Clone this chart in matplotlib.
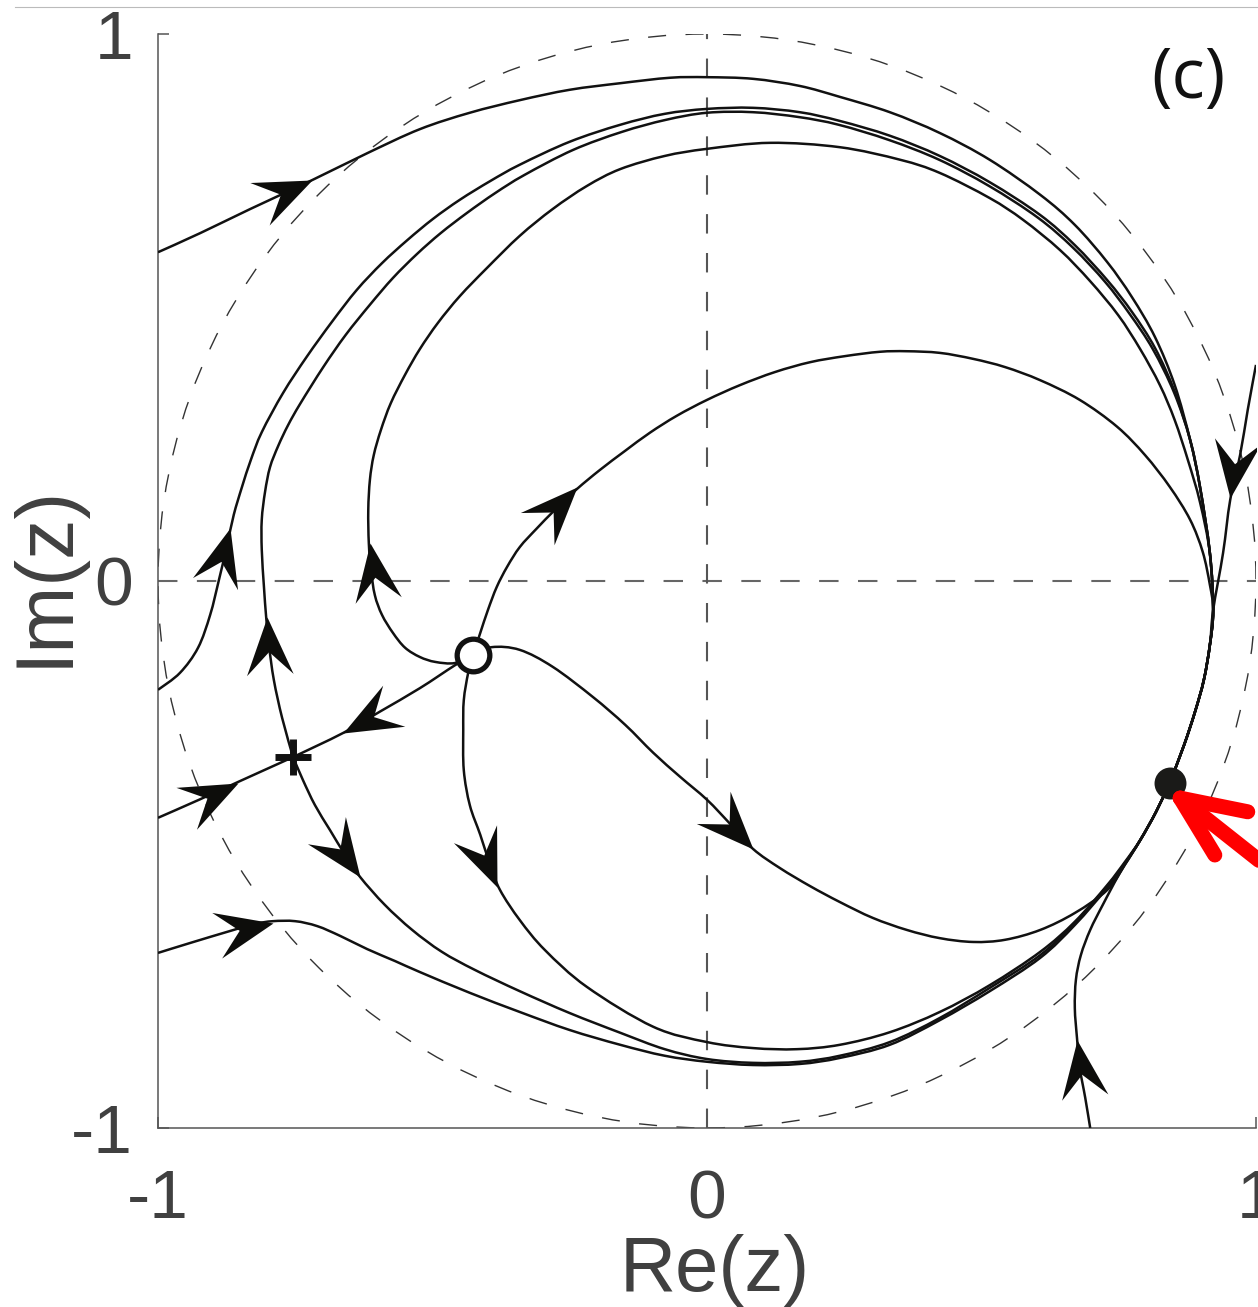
import numpy as np
import matplotlib
matplotlib.use("Agg")
import matplotlib.pyplot as plt
from matplotlib.path import Path
from matplotlib.markers import MarkerStyle
from matplotlib.transforms import Affine2D
from matplotlib.lines import Line2D
from matplotlib.patches import Circle, PathPatch

plt.rcParams['font.family'] = ['Liberation Sans', 'DejaVu Sans']
plt.rcParams['axes.unicode_minus'] = False
plt.rcParams['lines.scale_dashes'] = False

# fixed points of the flow in the unit disc
source = (-0.426, -0.135)
saddle = (-0.754, -0.322)
sink = (0.843, -0.369)

# common ends of the orbits that run into the sink
tail_top = [(0.922, -0.053), (0.916, -0.117), (0.905, -0.181), (0.889, -0.239),
            (0.869, -0.300), sink]
tail_bottom = [(0.789, -0.474), (0.818, -0.422), sink]

orbit_outer = [(-1.000, 0.601), (-0.923, 0.636), (-0.832, 0.680), (-0.719, 0.733),
               (-0.619, 0.782), (-0.523, 0.826), (-0.432, 0.856), (-0.341, 0.879),
               (-0.250, 0.898), (-0.158, 0.910), (-0.067, 0.920), (0.000, 0.921),
               (0.084, 0.918), (0.169, 0.905), (0.242, 0.885), (0.333, 0.857),
               (0.424, 0.819), (0.515, 0.770), (0.607, 0.706), (0.670, 0.651),
               (0.729, 0.583), (0.774, 0.519), (0.816, 0.446), (0.852, 0.358),
               (0.880, 0.258), (0.898, 0.172), (0.916, 0.051)] + tail_top

orbit_left_up = [(-1.000, -0.199), (-0.960, -0.168), (-0.927, -0.122), (-0.905, -0.062),
                 (-0.889, 0.002), (-0.874, 0.066), (-0.862, 0.121), (-0.847, 0.172),
                 (-0.831, 0.221), (-0.811, 0.272), (-0.772, 0.344), (-0.729, 0.410),
                 (-0.683, 0.474), (-0.638, 0.532), (-0.592, 0.581), (-0.546, 0.623),
                 (-0.499, 0.662), (-0.450, 0.697), (-0.395, 0.731), (-0.341, 0.761),
                 (-0.250, 0.803), (-0.158, 0.834), (-0.077, 0.854), (0.000, 0.863),
                 (0.084, 0.865), (0.169, 0.857), (0.242, 0.841), (0.333, 0.814),
                 (0.424, 0.777), (0.515, 0.729), (0.607, 0.669), (0.670, 0.614),
                 (0.729, 0.550), (0.774, 0.492), (0.816, 0.426), (0.852, 0.346),
                 (0.880, 0.258), (0.898, 0.172), (0.916, 0.051)] + tail_top

saddle_up = [saddle, (-0.774, -0.250), (-0.789, -0.181), (-0.798, -0.117), (-0.803, -0.066),
             (-0.807, -0.011), (-0.811, 0.057), (-0.811, 0.112), (-0.805, 0.163),
             (-0.796, 0.208), (-0.781, 0.247), (-0.763, 0.285), (-0.741, 0.324),
             (-0.699, 0.391), (-0.658, 0.450), (-0.614, 0.505), (-0.572, 0.554),
             (-0.528, 0.598), (-0.485, 0.636), (-0.437, 0.673), (-0.386, 0.709),
             (-0.333, 0.742), (-0.244, 0.788), (-0.155, 0.821), (-0.075, 0.843),
             (0.000, 0.856), (0.084, 0.857), (0.168, 0.848), (0.240, 0.834),
             (0.332, 0.806), (0.423, 0.770), (0.514, 0.722), (0.603, 0.664),
             (0.667, 0.609), (0.725, 0.547), (0.770, 0.488), (0.812, 0.424),
             (0.851, 0.344), (0.880, 0.258), (0.898, 0.172), (0.916, 0.051)] + tail_top

source_left_up = [source, (-0.459, -0.150), (-0.495, -0.148), (-0.523, -0.139), (-0.550, -0.122),
                  (-0.572, -0.095), (-0.592, -0.062), (-0.605, -0.026), (-0.612, 0.020),
                  (-0.616, 0.069), (-0.617, 0.130), (-0.614, 0.185), (-0.607, 0.230),
                  (-0.594, 0.276), (-0.576, 0.325), (-0.550, 0.377), (-0.523, 0.424),
                  (-0.490, 0.472), (-0.450, 0.521), (-0.401, 0.572), (-0.341, 0.631),
                  (-0.281, 0.680), (-0.219, 0.722), (-0.158, 0.753), (-0.077, 0.777),
                  (0.000, 0.790), (0.115, 0.801), (0.242, 0.793), (0.352, 0.770),
                  (0.424, 0.746), (0.515, 0.700), (0.576, 0.660), (0.643, 0.605),
                  (0.698, 0.548), (0.749, 0.486), (0.789, 0.424), (0.825, 0.358),
                  (0.852, 0.294), (0.876, 0.221), (0.898, 0.144), (0.916, 0.051)] + tail_top

source_up_right = [source, (-0.413, -0.095), (-0.399, -0.053), (-0.383, -0.011), (-0.364, 0.026),
                   (-0.341, 0.062), (-0.311, 0.095), (-0.277, 0.130), (-0.237, 0.168),
                   (-0.195, 0.203), (-0.149, 0.238), (-0.104, 0.271), (-0.055, 0.302),
                   (0.000, 0.331), (0.060, 0.358), (0.124, 0.382), (0.188, 0.400),
                   (0.251, 0.411), (0.315, 0.419), (0.364, 0.420), (0.424, 0.417),
                   (0.485, 0.406), (0.543, 0.391), (0.607, 0.367), (0.679, 0.331),
                   (0.747, 0.282), (0.798, 0.230), (0.843, 0.172), (0.880, 0.112),
                   (0.903, 0.053), (0.916, -0.007)] + tail_top

right_edge_down = [(1.000, 0.395), (0.985, 0.313), (0.971, 0.230), (0.953, 0.148),
                   (0.940, 0.051)] + tail_top

source_right_down = [source, (-0.392, -0.121), (-0.341, -0.126), (-0.281, -0.157), (-0.208, -0.212),
                     (-0.149, -0.263), (-0.098, -0.314), (-0.049, -0.358), (0.000, -0.400),
                     (0.042, -0.444), (0.084, -0.490), (0.133, -0.525), (0.188, -0.558),
                     (0.242, -0.587), (0.302, -0.616), (0.364, -0.638), (0.424, -0.653),
                     (0.485, -0.660), (0.543, -0.656), (0.607, -0.638), (0.670, -0.607),
                     (0.729, -0.565), (0.761, -0.519)] + tail_bottom

source_down = [source, (-0.435, -0.168), (-0.443, -0.218), (-0.444, -0.272), (-0.443, -0.346),
               (-0.432, -0.410), (-0.413, -0.464), (-0.395, -0.519), (-0.377, -0.565),
               (-0.341, -0.620), (-0.295, -0.675), (-0.219, -0.742), (-0.098, -0.815),
               (0.000, -0.843), (0.084, -0.854), (0.164, -0.856), (0.242, -0.848),
               (0.333, -0.825), (0.424, -0.788), (0.515, -0.739), (0.607, -0.678),
               (0.670, -0.623), (0.729, -0.556), (0.761, -0.514)] + tail_bottom

saddle_down = [saddle, (-0.736, -0.364), (-0.714, -0.410), (-0.687, -0.455), (-0.659, -0.501),
               (-0.632, -0.541), (-0.587, -0.592), (-0.537, -0.638), (-0.483, -0.678),
               (-0.423, -0.711), (-0.341, -0.750), (-0.250, -0.790), (-0.158, -0.826),
               (-0.077, -0.856), (0.000, -0.874), (0.084, -0.881), (0.169, -0.879),
               (0.242, -0.868), (0.333, -0.843), (0.424, -0.799), (0.515, -0.744),
               (0.607, -0.684), (0.670, -0.625), (0.729, -0.558), (0.761, -0.516)] + tail_bottom

left_edge_low = [(-1.000, -0.680), (-0.942, -0.662), (-0.869, -0.640), (-0.823, -0.627),
                 (-0.791, -0.622), (-0.750, -0.622), (-0.710, -0.631), (-0.668, -0.649),
                 (-0.619, -0.673), (-0.568, -0.695), (-0.523, -0.715), (-0.432, -0.753),
                 (-0.341, -0.788), (-0.250, -0.821), (-0.158, -0.848), (-0.077, -0.868),
                 (0.000, -0.879), (0.084, -0.885), (0.169, -0.883), (0.242, -0.872),
                 (0.333, -0.848), (0.424, -0.803), (0.515, -0.750), (0.607, -0.689),
                 (0.670, -0.629), (0.729, -0.561), (0.761, -0.517)] + tail_bottom

bottom_edge_up = [(0.698, -1.000), (0.689, -0.945), (0.679, -0.890), (0.674, -0.836),
                  (0.670, -0.781), (0.672, -0.729), (0.681, -0.684), (0.698, -0.638),
                  (0.721, -0.592), (0.752, -0.534)] + tail_bottom

stable_from_left = [(-1.000, -0.433), (-0.923, -0.399), (-0.851, -0.366), saddle]
stable_from_source = [source, (-0.459, -0.154), (-0.523, -0.196), (-0.596, -0.239),
                      (-0.663, -0.278), saddle]

orbits = [orbit_outer, orbit_left_up, saddle_up, source_left_up, source_up_right,
          right_edge_down, source_right_down, source_down, saddle_down, left_edge_low,
          bottom_edge_up, stable_from_left, stable_from_source]

# arrowheads: tip position and direction of flow
arrows = [(-0.719, 0.733, 55, 25), (-0.869, 0.097, 15, 56), (-0.801, -0.066, -3, 61),
          (-0.614, 0.069, -8, 56), (-0.854, -0.369, 53, 26), (-0.663, -0.278, -50, -27),
          (-0.632, -0.541, 20, -28), (-0.237, 0.172, 40, 42), (0.084, -0.490, 40, -42),
          (-0.383, -0.559, 14, -34), (-0.791, -0.625, 55, 12), (0.953, 0.152, -7, -53),
          (0.674, -0.839, -8, 59)]

# red pointer to the sink
pointer_tip = (0.862, -0.397)
pointer_shaft = [(1.080, -0.570), pointer_tip]
pointer_barbs = [[(0.985, -0.422), pointer_tip], [(0.925, -0.501), pointer_tip]]

ticks = [-1, 0, 1]
tick_labels = ['-1', '0', '1']


def smooth_path(pts):
    # smooth cubic curve through the traced points (Catmull-Rom style handles)
    p = np.asarray(pts, dtype=float)
    ext = np.vstack([p[0], p, p[-1]])
    verts = [p[0]]
    codes = [Path.MOVETO]
    for i in range(len(p) - 1):
        a, b, c, d = ext[i], ext[i + 1], ext[i + 2], ext[i + 3]
        verts += [b + (c - a) / 6.0, c - (d - b) / 6.0, c]
        codes += [Path.CURVE4] * 3
    return Path(verts, codes)


fig = plt.figure(figsize=(12.58, 13.07), dpi=100)
ax = fig.add_axes([0.1256, 0.1370, 0.8728, 0.8370])
ax.set_xlim(-1, 1)
ax.set_ylim(-1, 1)

ax.add_patch(Circle((0, 0), 1, fill=False, ec='#333333', lw=1.0, ls=(0, (13, 14))))
ax.axhline(0, color='#666666', lw=1.5, ls=(0, (14, 14)))
ax.axvline(0, color='#555555', lw=1.5, ls=(0, (14, 14)))

for orb in orbits:
    ax.add_patch(PathPatch(smooth_path(orb), fill=False, ec='#111111', lw=1.8,
                           joinstyle='round', capstyle='butt', zorder=3))

head = Path([(0, 0), (-1, 0.405), (-0.6, 0), (-1, -0.405), (0, 0)],
            [Path.MOVETO, Path.LINETO, Path.LINETO, Path.LINETO, Path.CLOSEPOLY])
for x, y, dx, dy in arrows:
    p0 = ax.transData.transform((x, y))
    p1 = ax.transData.transform((x + dx * 1e-3, y + dy * 1e-3))
    ang = np.degrees(np.arctan2(p1[1] - p0[1], p1[0] - p0[0]))
    m = MarkerStyle(head, transform=Affine2D().rotate_deg(ang))
    ax.plot(x, y, marker=m, ms=83, color='#0d0d0b', mew=0, zorder=4)

ax.plot(*saddle, marker='+', ms=26, mew=5, color='#111111', zorder=5)
ax.plot(*source, marker='o', ms=23.5, mew=3.8, mfc='white', mec='#111111', zorder=5)
ax.plot(*sink, marker='o', ms=23, mew=0, color='#1a1a18', zorder=5)

red = dict(color='#ff0000', lw=10.8, solid_capstyle='round', clip_on=False, zorder=6)
ax.plot(*np.array(pointer_shaft).T, **red)
for b in pointer_barbs:
    ax.plot(*np.array(b).T, **red)

ax.text(0.938, 0.958, '(c)', transform=ax.transAxes, ha='center', va='center',
        fontsize=50, family=['Open Sans', 'DejaVu Sans'], color='#111111')

for s in ['top', 'right']:
    ax.spines[s].set_visible(False)
for s in ['left', 'bottom']:
    ax.spines[s].set_color('#555555')
    ax.spines[s].set_linewidth(1.1)

ax.set_xticks(ticks)
ax.set_xticklabels(tick_labels)
ax.set_yticks(ticks)
ax.set_yticklabels(tick_labels)
ax.tick_params(axis='both', direction='in', length=8, width=1.1, color='#555555',
               labelsize=50, labelcolor='#404040')
ax.tick_params(axis='x', pad=29)
ax.tick_params(axis='y', pad=18)

ax.set_xlabel('Re(z)', fontsize=56, color='#404040')
ax.set_ylabel('Im(z)', fontsize=58, color='#404040')
ax.xaxis.set_label_coords(0.507, -0.097)
ax.yaxis.set_label_coords(-0.068, 0.5055)

fig.add_artist(Line2D([0.012, 1.0], [0.9946, 0.9946], color='#bbbbbb', lw=0.8))

fig.savefig('out.png', dpi=100)
